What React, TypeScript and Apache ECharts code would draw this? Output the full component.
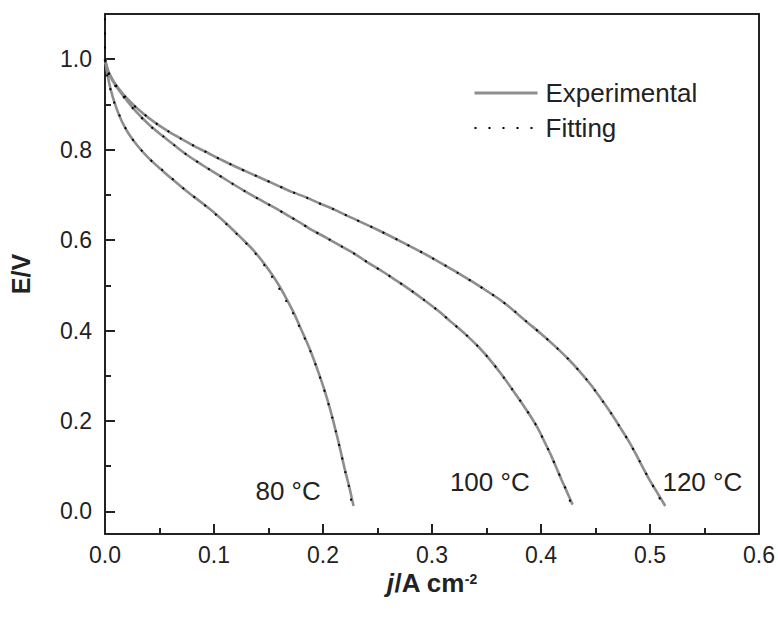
import React, { useEffect, useRef } from "react";
import * as echarts from "echarts";

// Experimental polarization curves [j (A cm^-2), E (V)]
const exp80: number[][] = [
  [0, 1.0], [0.002, 0.97], [0.005, 0.935], [0.01, 0.895], [0.015, 0.865], [0.021, 0.838],
  [0.03, 0.808], [0.041, 0.779], [0.053, 0.753], [0.064, 0.73], [0.075, 0.708], [0.088, 0.684],
  [0.1, 0.661], [0.112, 0.635], [0.124, 0.607], [0.136, 0.578], [0.146, 0.548], [0.154, 0.521],
  [0.161, 0.494], [0.167, 0.468], [0.173, 0.44], [0.178, 0.413], [0.183, 0.386], [0.188, 0.358],
  [0.192, 0.333], [0.196, 0.306], [0.2, 0.278], [0.204, 0.247], [0.208, 0.213], [0.212, 0.175],
  [0.216, 0.135], [0.22, 0.093], [0.224, 0.055], [0.228, 0.012],
];
const exp100: number[][] = [
  [0, 1.0], [0.003, 0.972], [0.007, 0.952], [0.012, 0.934], [0.02, 0.909], [0.029, 0.883],
  [0.041, 0.854], [0.053, 0.83], [0.064, 0.809], [0.076, 0.787], [0.09, 0.765], [0.102, 0.747],
  [0.114, 0.729], [0.127, 0.71], [0.14, 0.692], [0.153, 0.675], [0.166, 0.657], [0.178, 0.64],
  [0.19, 0.622], [0.204, 0.604], [0.217, 0.586], [0.23, 0.568], [0.242, 0.549], [0.255, 0.53],
  [0.267, 0.511], [0.28, 0.49], [0.293, 0.467], [0.306, 0.443], [0.318, 0.418], [0.331, 0.391],
  [0.343, 0.363], [0.354, 0.333], [0.364, 0.302], [0.373, 0.272], [0.382, 0.241], [0.39, 0.212],
  [0.397, 0.184], [0.403, 0.155], [0.409, 0.125], [0.414, 0.097], [0.419, 0.069], [0.424, 0.042],
  [0.429, 0.015],
];
const exp120: number[][] = [
  [0, 1.0], [0.003, 0.974], [0.007, 0.955], [0.012, 0.937], [0.02, 0.914], [0.032, 0.886],
  [0.044, 0.863], [0.057, 0.842], [0.07, 0.824], [0.082, 0.808], [0.095, 0.792], [0.108, 0.776],
  [0.121, 0.761], [0.134, 0.747], [0.147, 0.733], [0.159, 0.72], [0.172, 0.706], [0.185, 0.694],
  [0.197, 0.681], [0.21, 0.668], [0.223, 0.653], [0.249, 0.624], [0.273, 0.595], [0.299, 0.562],
  [0.324, 0.527], [0.337, 0.508], [0.35, 0.488], [0.363, 0.467], [0.375, 0.444], [0.387, 0.419],
  [0.4, 0.393], [0.413, 0.365], [0.425, 0.337], [0.436, 0.308], [0.446, 0.279], [0.455, 0.249],
  [0.464, 0.218], [0.472, 0.188], [0.481, 0.153], [0.49, 0.113], [0.499, 0.072], [0.507, 0.04],
  [0.514, 0.012],
];

// Model fits
const fit80: number[][] = [
  [0, 1.09], [0, 1.01], [0.002, 0.962], [0.006, 0.925], [0.009, 0.9], [0.015, 0.867],
  [0.021, 0.838], [0.03, 0.808], [0.041, 0.779], [0.053, 0.754], [0.064, 0.731], [0.075, 0.708],
  [0.088, 0.684], [0.1, 0.66], [0.112, 0.634], [0.124, 0.606], [0.136, 0.576], [0.146, 0.545],
  [0.154, 0.516], [0.161, 0.488], [0.167, 0.462], [0.173, 0.436], [0.178, 0.41], [0.183, 0.384],
  [0.188, 0.357], [0.192, 0.332], [0.196, 0.305], [0.2, 0.277], [0.204, 0.246], [0.208, 0.212],
  [0.212, 0.174], [0.216, 0.134], [0.22, 0.092], [0.224, 0.052], [0.227, 0.005],
];
const fit100: number[][] = [
  [0, 1.0], [0.003, 0.97], [0.007, 0.95], [0.012, 0.932], [0.02, 0.908], [0.029, 0.882],
  [0.041, 0.853], [0.053, 0.83], [0.064, 0.809], [0.076, 0.787], [0.09, 0.765], [0.102, 0.747],
  [0.114, 0.729], [0.127, 0.71], [0.14, 0.692], [0.153, 0.675], [0.166, 0.657], [0.178, 0.64],
  [0.19, 0.622], [0.204, 0.604], [0.217, 0.586], [0.23, 0.568], [0.242, 0.549], [0.255, 0.53],
  [0.267, 0.511], [0.28, 0.49], [0.293, 0.467], [0.306, 0.443], [0.318, 0.418], [0.331, 0.391],
  [0.343, 0.363], [0.354, 0.333], [0.364, 0.302], [0.373, 0.272], [0.382, 0.241], [0.39, 0.212],
  [0.397, 0.184], [0.403, 0.155], [0.409, 0.125], [0.414, 0.097], [0.419, 0.069], [0.424, 0.042],
  [0.428, 0.012],
];
const fit120: number[][] = [
  [0, 1.0], [0.003, 0.972], [0.007, 0.953], [0.012, 0.936], [0.02, 0.913], [0.032, 0.886],
  [0.044, 0.863], [0.057, 0.842], [0.07, 0.824], [0.082, 0.808], [0.095, 0.792], [0.108, 0.776],
  [0.121, 0.761], [0.134, 0.747], [0.147, 0.733], [0.159, 0.72], [0.172, 0.706], [0.185, 0.694],
  [0.197, 0.681], [0.21, 0.668], [0.223, 0.653], [0.249, 0.624], [0.273, 0.595], [0.299, 0.562],
  [0.324, 0.527], [0.337, 0.508], [0.35, 0.488], [0.363, 0.467], [0.375, 0.444], [0.387, 0.419],
  [0.4, 0.393], [0.413, 0.365], [0.425, 0.337], [0.436, 0.308], [0.446, 0.279], [0.455, 0.249],
  [0.464, 0.218], [0.472, 0.188], [0.481, 0.153], [0.49, 0.113], [0.499, 0.072], [0.507, 0.038],
  [0.513, 0.006],
];

const curveLabels = [
  { name: "80 °C", value: [0.168, 0.045] },
  { name: "100 °C", value: [0.353, 0.066] },
  { name: "120 °C", value: [0.548, 0.066] },
];

const yTicks = [0, 0.2, 0.4, 0.6, 0.8, 1.0];
const yMinorTicks = [0.1, 0.3, 0.5, 0.7, 0.9];

const FONT = "'Liberation Sans', Arial, Helvetica, sans-serif";
const INK = "#222222";
const GRAY = "#8e8e8e";

export default function App() {
  const ref = useRef<HTMLDivElement>(null);

  useEffect(() => {
    if (!ref.current) return;
    const chart = echarts.init(ref.current, undefined, { renderer: "svg" });

    const expSeries = [exp80, exp100, exp120].map((d) => ({
      name: "Experimental",
      type: "line",
      data: d,
      showSymbol: false,
      symbol: "none",
      smooth: 0.3,
      lineStyle: { color: GRAY, width: 2.6 },
      itemStyle: { color: GRAY },
      z: 2,
    }));
    const fitSeries = [fit80, fit100, fit120].map((d) => ({
      name: "Fitting",
      type: "line",
      data: d,
      showSymbol: false,
      symbol: "none",
      smooth: 0.3,
      lineStyle: { color: "#000", width: 2, type: [2, 12] },
      itemStyle: { color: "#000" },
      z: 3,
    }));

    chart.setOption({
      animation: false,
      textStyle: { fontFamily: FONT },
      grid: { left: 105, right: 18, top: 14, bottom: 84 },
      legend: {
        data: [
          { name: "Experimental", lineStyle: { width: 3, color: GRAY } },
          { name: "Fitting", lineStyle: { width: 2, color: "#000", type: [2, 12] } },
        ],
        orient: "vertical",
        left: 473,
        top: 80,
        padding: 0,
        itemWidth: 63,
        itemHeight: 14,
        itemGap: 9,
        selectedMode: false,
        itemStyle: { opacity: 0, color: "rgba(0,0,0,0)", borderWidth: 0 },
        textStyle: { fontSize: 26, color: INK, fontFamily: FONT, lineHeight: 26, padding: [0, 0, 0, 3] },
      },
      xAxis: [
        {
          type: "value",
          position: "bottom",
          min: 0,
          max: 0.6,
          interval: 0.1,
          name: "{i|j}{b|/A cm}{s|-2}",
          nameLocation: "middle",
          nameGap: 38,
          nameMoveOverlap: false,
          nameTextStyle: {
            fontSize: 26,
            fontWeight: "bold",
            color: INK,
            lineHeight: 22,
            rich: {
              i: { fontSize: 26, fontWeight: "bold", fontStyle: "italic", color: INK, fontFamily: FONT, lineHeight: 22 },
              b: { fontSize: 26, fontWeight: "bold", color: INK, fontFamily: FONT, lineHeight: 22 },
              s: { fontSize: 14, fontWeight: "bold", color: INK, fontFamily: FONT, verticalAlign: "top", lineHeight: 14 },
            },
          },
          axisLine: { show: true, onZero: false, lineStyle: { color: INK, width: 2 } },
          axisTick: { show: true, inside: true, length: 10, lineStyle: { color: INK, width: 2 } },
          minorTick: { show: true, splitNumber: 2, length: 6, lineStyle: { color: INK, width: 2 } },
          axisLabel: {
            fontSize: 23,
            lineHeight: 22,
            color: INK,
            margin: 10,
            formatter: (v: number) => v.toFixed(1),
          },
          splitLine: { show: false },
          minorSplitLine: { show: false },
        },
        {
          type: "value",
          position: "top",
          min: 0,
          max: 0.6,
          axisLine: { show: true, onZero: false, lineStyle: { color: INK, width: 2 } },
          axisTick: { show: false },
          axisLabel: { show: false },
          splitLine: { show: false },
        },
      ],
      yAxis: [
        {
          type: "value",
          position: "left",
          min: -0.05,
          max: 1.1,
          name: "E/V",
          nameLocation: "middle",
          nameGap: 72,
          nameMoveOverlap: false,
          nameTextStyle: { fontSize: 25, fontWeight: "bold", color: INK, fontFamily: FONT },
          axisLine: { show: true, onZero: false, lineStyle: { color: INK, width: 2 } },
          axisTick: {
            show: true,
            inside: true,
            length: 10,
            customValues: yTicks,
            lineStyle: { color: INK, width: 2 },
          },
          axisLabel: {
            fontSize: 23,
            color: INK,
            margin: 13,
            customValues: yTicks,
            formatter: (v: number) => v.toFixed(1),
          },
          splitLine: { show: false },
        },
        {
          type: "value",
          position: "left",
          min: -0.05,
          max: 1.1,
          axisLine: { show: false },
          axisTick: {
            show: true,
            inside: true,
            length: 6,
            customValues: yMinorTicks,
            lineStyle: { color: INK, width: 2 },
          },
          axisLabel: { show: false },
          splitLine: { show: false },
        },
        {
          type: "value",
          position: "right",
          min: -0.05,
          max: 1.1,
          axisLine: { show: true, onZero: false, lineStyle: { color: INK, width: 2 } },
          axisTick: { show: false },
          axisLabel: { show: false },
          splitLine: { show: false },
        },
      ],
      series: [
        ...expSeries,
        ...fitSeries,
        {
          type: "scatter",
          data: curveLabels,
          symbolSize: 2,
          itemStyle: { color: "rgba(0,0,0,0)", opacity: 1 },
          silent: true,
          label: {
            show: true,
            position: "inside",
            formatter: "{b}",
            fontSize: 26,
            color: INK,
            opacity: 1,
            textBorderWidth: 0,
            fontFamily: FONT,
          },
          z: 5,
        },
      ],
    });

    return () => chart.dispose();
  }, []);

  return (
    <div
      ref={ref}
      style={{ position: "fixed", left: 0, top: 0, width: 778, height: 618, background: "#fff" }}
    />
  );
}
